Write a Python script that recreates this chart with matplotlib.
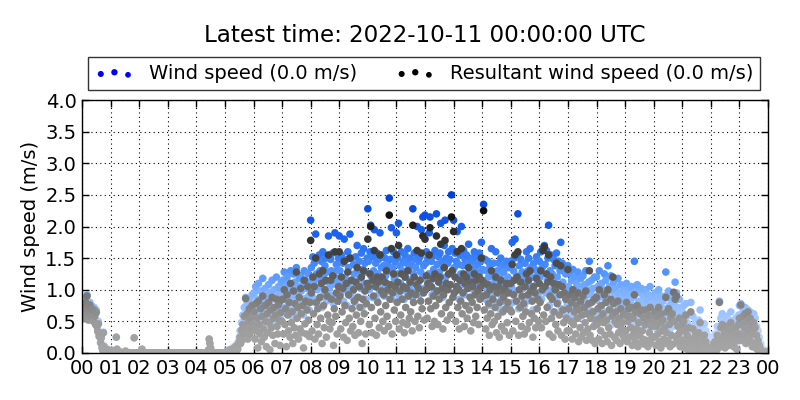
import numpy as np
import matplotlib
matplotlib.use("Agg")
import matplotlib.pyplot as plt
from matplotlib.colors import LinearSegmentedColormap, Normalize
from matplotlib.ticker import FormatStrFormatter

# ---- data: 1.5-minute samples, 40 values per hour ----
wind_speed = [
    # 00
    .72,.66,.78,.60,.70,.85,.64,.92,.75,.58, .68,.80,.62,.70,.74,.66,.55,.72,.62,.48,
    .68,.44,.36,.50,.28,.33,.18,.25,.10,.05, .33,.12,.03,0,.02,0,.06,0,.02,0,
    # 01
    0,0,.04,0,0,0,0,0,.25,.06, 0,0,0,.02,0,0,0,0,0,0,
    0,.03,0,0,0,0,0,0,0,0, 0,0,0,.24,0,0,0,0,0,0,
    # 02
    0,0,0,0,.06,0,0,0,0,0, 0,0,0,0,0,0,0,0,0,0,
    0,0,0,0,0,0,0,0,0,0, 0,0,0,0,0,0,0,0,0,0,
    # 03
    0,0,0,0,0,0,0,0,0,0, 0,0,0,0,0,0,0,0,0,0,
    0,0,0,0,0,0,0,0,0,0, 0,0,0,0,0,0,0,0,0,0,
    # 04
    0,0,0,0,0,0,0,0,0,0, 0,0,0,0,0,0,0,.05,.22,.15,
    .08,0,0,0,0,0,0,0,0,0, 0,0,0,0,0,0,0,0,0,0,
    # 05
    0,0,.02,0,.04,0,0,.06,.03,0, .08,.02,0,.1,.05,.12,.04,.15,.08,.18,
    .25,.35,.22,.48,.3,.6,.42,.72,.55,.88, .5,.78,.38,.65,.85,.45,.7,.58,.92,.62,
    # 06
    .75,.95,.55,1.05,.68,.85,.42,1.1,.78,.62, .98,.5,.88,1.18,.7,.58,1.02,.82,.45,.92,
    .66,1.08,.8,.52,.96,.72,1.15,.6,.86,1.0, .48,.9,1.2,.74,.64,1.05,.84,.56,.94,1.12,
    # 07
    .9,1.15,.72,1.28,.85,1.05,.62,1.2,.95,.78, 1.1,.68,1.3,.88,1.0,.58,1.25,.82,1.12,.7,
    1.35,.92,1.05,.65,1.18,.8,1.22,.98,.75,1.08, .6,1.3,.86,1.15,.72,1.02,1.26,.9,.68,1.12,
    # 08
    2.1,1.35,.9,1.52,1.1,1.42,.8,1.88,1.25,1.0, 1.18,.85,1.55,1.3,1.05,1.45,.72,1.6,1.2,.95,
    1.38,1.5,.82,1.28,1.12,1.85,1.02,.92,1.48,1.3, 1.08,1.58,.78,1.22,1.9,1.15,1.4,.88,1.32,1.5,
    # 09
    1.85,1.3,.95,1.55,1.1,1.42,.82,1.8,1.2,1.0, 1.48,.75,1.6,1.35,1.05,1.88,.9,1.5,1.15,.98,
    1.4,1.25,.8,1.52,1.08,1.7,1.3,.88,1.45,1.18, 1.02,1.58,.72,1.32,1.65,1.1,1.42,.85,1.28,1.5,
    # 10
    2.28,1.45,1.0,1.6,2.02,1.2,.88,1.52,1.3,1.95, 1.05,1.42,.85,1.58,1.25,1.48,.95,1.9,1.15,1.35,
    1.55,1.02,1.38,.9,1.5,1.22,1.62,1.1,1.4,.98, 2.45,1.3,1.48,1.98,.85,1.35,1.6,1.18,1.45,1.05,
    # 11
    1.9,1.25,1.5,2.05,.9,1.38,1.1,1.6,1.3,1.0, 1.45,.85,1.55,1.2,1.42,.95,1.65,1.32,1.05,1.5,
    1.15,1.4,.88,2.28,1.25,1.58,.98,1.35,1.48,2.0, 1.08,1.45,.92,1.52,1.28,1.95,1.18,2.15,1.38,1.02,
    # 12
    2.18,1.42,1.6,1.05,1.5,1.25,1.9,2.15,1.15,1.45, .92,1.55,1.32,1.0,1.62,1.2,2.2,1.4,.95,1.52,
    1.28,1.58,2.05,1.1,1.45,.88,1.35,1.7,2.1,1.2, 1.5,1.02,1.42,1.6,1.25,1.48,1.08,2.5,1.65,1.3,
    # 13
    2.1,1.35,1.58,.98,1.45,1.92,1.18,1.4,.85,1.55, 1.25,2.0,1.08,1.38,1.62,.92,1.48,1.2,1.55,1.02,
    1.42,1.72,1.12,1.3,.88,1.5,1.22,1.45,1.0,1.6, 1.35,1.05,1.52,1.18,1.4,.95,1.58,1.28,1.45,1.75,
    # 14
    1.5,1.32,2.35,1.1,1.48,.85,1.3,1.0,1.45,1.2, .75,1.38,1.08,1.65,.9,1.25,1.42,.95,1.15,1.6,
    .8,1.3,1.02,1.42,.7,1.22,1.5,.88,1.35,1.1, 1.28,.82,1.4,1.15,1.45,.95,1.2,1.35,.72,1.12,
    # 15
    1.45,1.05,1.75,.8,1.3,1.5,1.8,.98,1.22,1.55, 2.2,.7,1.38,1.12,1.48,.88,1.28,1.02,1.18,.75,
    1.42,1.08,1.6,.82,1.3,1.5,.92,1.65,1.35,1.05, 1.2,.68,1.42,.98,1.32,.85,1.52,1.1,1.25,.95,
    # 16
    1.45,1.2,1.6,.85,1.35,1.65,1.05,1.7,1.4,.95, 1.62,1.15,1.5,2.02,.75,1.3,1.55,1.0,1.25,.65,
    1.48,1.1,1.38,.9,1.58,1.2,.8,1.45,1.05,1.3, 1.75,.7,1.42,1.12,.92,1.35,.6,1.25,1.0,.78,
    # 17
    1.38,1.05,.75,1.25,.9,1.15,.6,1.32,.85,1.0, 1.2,.7,1.1,.95,1.28,.55,1.05,.8,1.18,.65,
    .98,1.22,.72,1.08,.88,1.3,.62,1.0,.78,1.12, 1.45,.68,.92,1.15,.58,1.02,.82,1.2,.5,.9,
    # 18
    1.2,.85,1.05,.6,1.3,.95,.75,1.1,.5,1.0, .88,1.25,.65,1.15,.92,.55,1.38,.8,1.05,.7,
    1.22,.45,.98,.82,1.12,.62,.9,1.02,.58,.85, 1.18,.72,.95,.52,1.08,.78,.88,.65,1.0,.6,
    # 19
    .95,.7,1.1,.5,.85,1.0,.62,.92,.78,1.05, .45,.88,.68,1.45,.55,.98,.75,1.08,.4,.82,
    .65,.95,.52,1.02,.72,.6,.9,.48,.8,1.0, .58,.85,.42,.92,.7,1.05,.5,.78,.62,.88,
    # 20
    .8,.55,.95,.4,.72,.88,.6,1.0,.48,.78, .35,.9,.65,.82,.52,.7,.45,1.28,.62,.92,
    .5,.98,.75,.38,.85,.58,.95,.42,.68,.8, 1.12,.55,.95,.48,.72,.6,.85,.38,.65,.5,
    # 21
    .65,.4,.75,.25,.55,.78,.3,.48,.2,.6, .35,.15,.8,.42,.28,.58,.1,.38,.22,.5,
    .45,.18,.32,.52,.12,.68,.25,.4,.08,.3, .2,.46,.15,.35,.1,.28,.05,.22,.12,.18,
    # 22
    .1,0,.18,.05,.25,0,.3,.12,.08,.42, .2,.15,.82,.35,.55,.28,.62,.4,.22,.48,
    .18,.35,.58,.3,.45,.25,.52,.38,.65,.42, .28,.5,.2,.4,.32,.55,.15,.45,.35,.6,
    # 23
    .75,.5,.78,.38,.62,.7,.45,.55,.72,.3, .6,.48,.68,.4,.52,.65,.35,.58,.25,.45,
    .62,.3,.55,.2,.42,.15,.35,.1,.25,.05, .15,.02,.08,0,.05,0,.02,0,.03,0,
]

resultant_speed = [
    # 00
    .68,.62,.74,.55,.66,.80,.60,.90,.70,.52, .64,.76,.58,.66,.70,.62,.50,.68,.58,.45,
    .64,.42,.34,.46,.26,.30,.16,.24,.08,.04, .32,.10,.02,0,.02,0,.05,0,.02,0,
    # 01
    0,0,.04,0,0,0,0,0,.25,.06, 0,0,0,.02,0,0,0,0,0,0,
    0,.03,0,0,0,0,0,0,0,0, 0,0,0,.24,0,0,0,0,0,0,
    # 02
    0,0,0,0,.06,0,0,0,0,0, 0,0,0,0,0,0,0,0,0,0,
    0,0,0,0,0,0,0,0,0,0, 0,0,0,0,0,0,0,0,0,0,
    # 03
    0,0,0,0,0,0,0,0,0,0, 0,0,0,0,0,0,0,0,0,0,
    0,0,0,0,0,0,0,0,0,0, 0,0,0,0,0,0,0,0,0,0,
    # 04
    0,0,0,0,0,0,0,0,0,0, 0,0,0,0,0,0,0,.05,.22,.15,
    .08,0,0,0,0,0,0,0,0,0, 0,0,0,0,0,0,0,0,0,0,
    # 05
    0,0,.02,0,.03,0,0,.05,.02,0, .06,.02,0,.08,.04,.1,.03,.12,.06,.14,
    .18,.25,.15,.36,.2,.45,.3,.58,.4,.86, .32,.62,.22,.5,.7,.3,.55,.4,.75,.45,
    # 06
    .4,.65,.22,.78,.35,.55,.08,.82,.45,.3, .7,.18,.58,.9,.38,.25,.75,.5,.1,.62,
    .32,.8,.48,.05,.68,.4,.88,.28,.55,.72, .15,.6,.85,.42,.3,.76,.52,.12,.64,.84,
    # 07
    .5,.85,.3,1.0,.45,.7,.1,.92,.6,.35, .8,.25,1.1,.48,.65,.15,.98,.4,.78,.28,
    1.28,.55,.72,.22,.88,.38,1.02,.62,.32,.75, .08,1.15,.46,.82,.3,.68,1.05,.52,.26,.8,
    # 08
    1.78,.95,.35,1.2,.62,1.05,.22,1.5,.8,.45, .7,.3,1.25,.88,.55,1.1,.15,1.3,.75,.4,
    1.0,1.15,.25,.9,.6,1.55,.5,.38,1.15,.85, .48,1.22,.12,.7,1.6,.58,.95,.3,.82,1.05,
    # 09
    1.6,.9,.38,1.2,.65,1.02,.25,1.45,.75,.48, 1.1,.2,1.28,.92,.55,1.5,.35,1.15,.7,.42,
    1.0,.82,.28,1.12,.6,1.35,.88,.32,1.05,.72, .5,1.2,.15,.85,1.3,.62,.98,.3,.78,1.1,
    # 10
    1.8,1.05,.45,1.25,2.0,.72,.32,1.15,.9,1.62, .55,1.05,.28,1.2,.8,1.12,.4,1.55,.65,.98,
    1.2,.5,.92,.35,1.12,.75,1.3,.58,1.0,.42, 2.18,.85,1.08,1.65,.3,.95,1.25,.68,1.05,.5,
    # 11
    1.55,.8,1.12,1.7,.38,.98,.6,1.25,.85,.48, 1.05,.32,1.2,.72,1.02,.45,1.3,.9,.55,1.12,
    .65,.95,.35,2.02,.8,1.2,.5,.92,1.08,1.62, .58,1.02,.4,1.15,.82,1.58,.7,1.85,.95,.52,
    # 12
    1.8,1.0,1.22,.55,1.1,.82,1.55,1.98,.7,1.05, .42,1.18,.9,.5,1.25,.75,1.85,.98,.45,1.12,
    .85,1.2,1.72,.62,1.02,.38,.92,1.35,1.78,.72, 1.1,.52,1.0,1.25,.8,1.08,.6,2.15,1.3,.88,
    # 13
    1.92,.95,1.2,.5,1.05,1.6,.72,1.0,.38,1.15, .82,1.65,.62,.95,1.25,.42,1.1,.75,1.2,.55,
    1.02,1.35,.68,.88,.35,1.12,.8,1.05,.48,1.25, .92,.58,1.15,.72,.98,.45,1.2,.85,1.05,1.5,
    # 14
    1.15,.9,2.25,.68,1.1,.38,.92,.55,1.08,.78, .28,1.0,.62,1.3,.45,.85,1.05,.5,.72,1.2,
    .32,.95,.58,1.05,.25,.8,1.15,.42,.98,.65, .88,.35,1.02,.7,1.1,.48,.8,.95,.28,.68,
    # 15
    1.1,.65,1.4,.35,.92,1.15,1.55,.5,.82,1.2, 1.6,.28,1.0,.72,1.12,.42,.9,.58,.78,.3,
    1.05,.65,1.25,.38,.92,1.15,.48,1.3,.98,.62, .82,.25,1.05,.55,.95,.4,1.18,.7,.85,.5,
    # 16
    1.1,.8,1.3,.4,1.0,1.62,.6,1.68,1.05,.5, 1.25,.72,1.12,1.55,.3,.9,1.2,.55,.85,.25,
    1.1,.65,1.0,.45,1.42,.78,.35,1.08,.6,.92, 1.38,.28,1.05,.68,.48,.95,.22,.85,.55,.35,
    # 17
    1.32,.7,.35,.92,.5,.8,.22,1.0,.45,.65, .88,.3,.75,.55,.95,.18,.68,.4,.82,.25,
    .6,.9,.32,.72,.48,.98,.2,.62,.38,.78, 1.3,.28,.55,.8,.2,.65,.42,.85,.15,.52,
    # 18
    .88,.45,.7,.22,1.0,.55,.35,.75,.15,.62, .48,.92,.28,.8,.52,.18,1.0,.4,.68,.3,
    .85,.12,.58,1.2,.78,.25,.5,.65,.2,.45, .82,.32,.55,.15,.7,.38,.48,.28,.62,.22,
    # 19
    .6,.35,.8,.18,.5,.7,.25,.58,.4,.72, .12,.55,.3,.92,.2,.65,.38,.75,.1,.48,
    .28,.62,.15,.68,.35,.22,.56,.14,.45,.68, .2,.52,.1,.6,.32,.72,.16,.42,.26,.55,
    # 20
    .5,.25,.65,.12,.42,.58,.3,.72,.18,.48, .08,.62,.35,.52,.22,.4,.15,.88,.32,.65,
    .2,.7,.45,.1,.55,.28,.62,.14,.96,.5, .85,.25,.9,.18,.42,.3,.55,.1,.35,.2,
    # 21
    .45,.2,.5,.08,.35,.6,.12,.28,.05,.4, .18,.04,.65,.22,.1,.38,.02,.2,.06,.3,
    .25,.05,.15,.32,.03,.48,.08,.22,0,.12, .05,.28,.03,.18,0,.1,0,.06,.02,.04,
    # 22
    .05,0,.1,.02,.15,0,.18,.06,.04,.28, .12,.08,.8,.22,.4,.15,.45,.25,.1,.32,
    .08,.2,.42,.18,.3,.12,.38,.22,.48,.28, .15,.35,.1,.25,.18,.4,.06,.3,.2,.45,
    # 23
    .55,.3,.76,.2,.45,.58,.28,.4,.62,.15, .5,.32,.65,.22,.38,.55,.18,.45,.1,.3,
    .48,.15,.4,.08,.28,.06,.2,.04,.12,.02, .06,0,.03,0,.02,0,0,0,.02,0,
]

samples_per_hour = 40
hour_ticks = list(range(25))
hour_labels = ["%02d" % (h % 24) for h in hour_ticks]
title_text = "Latest time: 2022-10-11 00:00:00 UTC"
wind_label = "Wind speed (0.0 m/s)"
res_label = "Resultant wind speed (0.0 m/s)"

# ---- plot ----
wind = np.array(wind_speed, dtype=float)
res = np.array(resultant_speed, dtype=float)
t_hours = np.arange(len(wind)) / samples_per_hour

blue_cmap = LinearSegmentedColormap.from_list(
    "blues", [(0.0, "#cfe2ff"), (0.08, "#c5dcff"), (0.2, "#a8caff"),
              (0.36, "#86b6ff"), (0.48, "#5c9cff"), (0.6, "#3a80f5"),
              (0.72, "#1f66ee"), (0.92, "#0a4ce0"), (1.0, "#0040d8")])
gray_cmap = LinearSegmentedColormap.from_list(
    "grays", [(0.0, "#a6a6a6"), (0.08, "#a2a2a2"), (0.2, "#999999"),
              (0.36, "#777777"), (0.48, "#5c5c5c"), (0.6, "#444444"),
              (0.72, "#333333"), (0.88, "#111111"), (1.0, "#000000")])
norm = Normalize(vmin=0.0, vmax=2.5)

fig = plt.figure(figsize=(8, 4), dpi=100, facecolor="white")
ax = fig.add_axes([0.1025, 0.1175, 0.8575, 0.6325])

ax.scatter(t_hours, wind, c=wind, cmap=blue_cmap, norm=norm, s=30,
           edgecolors="none", zorder=3)
ax.scatter(t_hours, res, c=res, cmap=gray_cmap, norm=norm, s=30,
           edgecolors="none", zorder=4)

# legend proxies
h1 = ax.scatter([np.nan, np.nan], [np.nan, np.nan], s=[17, 21], c="#0000ff", edgecolors="none")
h2 = ax.scatter([np.nan, np.nan], [np.nan, np.nan], s=[17, 21], c="#000000", edgecolors="none")
leg = ax.legend([h1, h2], [wind_label, res_label], ncol=2, loc="lower left",
                bbox_to_anchor=(0.009, 1.04, 0.98, 0.1), mode="expand",
                borderaxespad=0, scatterpoints=3, fontsize=14, frameon=True,
                fancybox=False, handletextpad=0.8, borderpad=0.35)
leg.get_frame().set_edgecolor("black")
leg.get_frame().set_linewidth(1.0)

ax.set_xlim(0, 24)
ax.set_ylim(0, 4)
ax.set_xticks(hour_ticks)
ax.set_xticklabels(hour_labels)
ax.set_yticks(np.arange(0, 4.01, 0.5))
ax.yaxis.set_major_formatter(FormatStrFormatter("%.1f"))
ax.tick_params(direction="in", top=True, right=True, length=5, width=1,
               labelsize=14, pad=4)
ax.set_axisbelow(False)
ax.grid(True, linestyle=(0, (1, 3)), color="black", linewidth=0.8, zorder=6)
for sp in ax.spines.values():
    sp.set_linewidth(1.0)
    sp.set_zorder(7)
ax.set_ylabel("Wind speed (m/s)", fontsize=14)

fig.text(0.53125, 0.9125, title_text, ha="center", va="center", fontsize=16.6)

fig.savefig("out.png", dpi=100, facecolor="white")
